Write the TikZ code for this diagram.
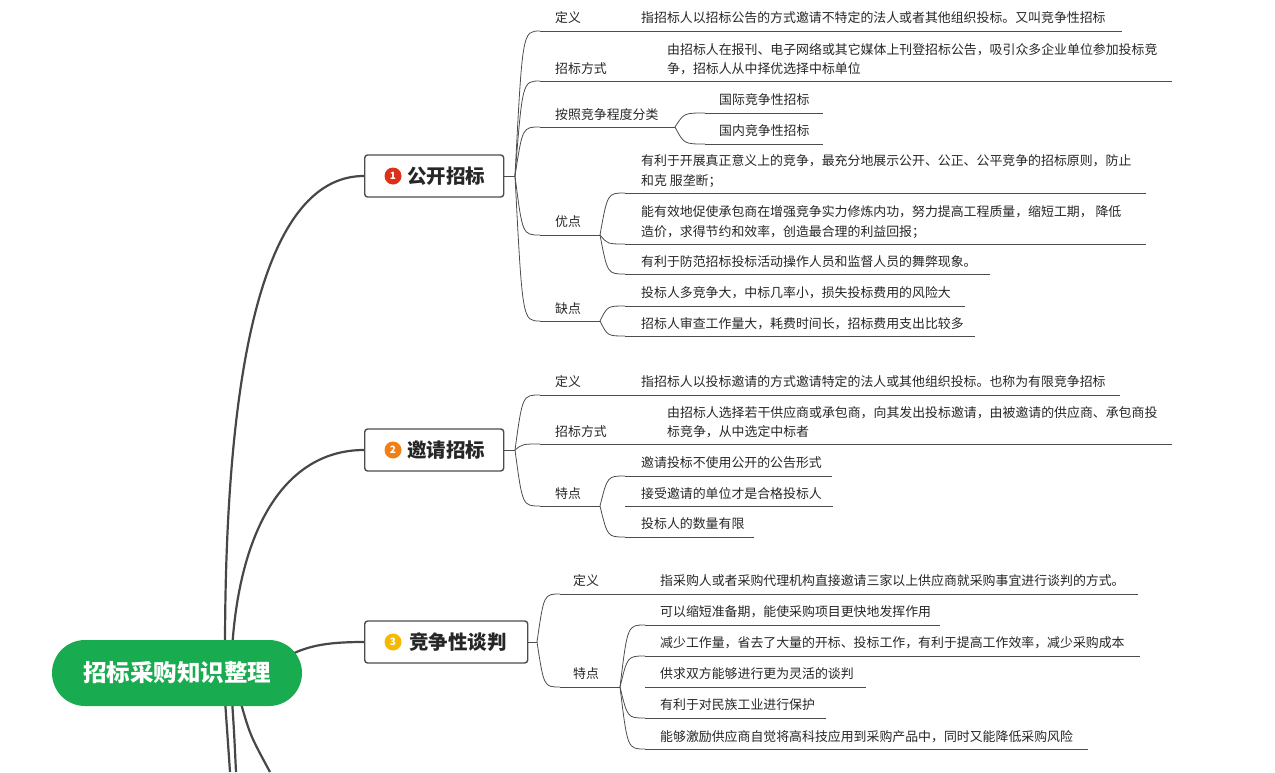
\documentclass[tikz,border=0pt]{standalone}
\usepackage{fontspec}
\setmainfont{Noto Sans CJK SC}
\begin{document}
\begin{tikzpicture}[x=1pt,y=-1pt,
  br/.style={draw=black!70,line width=0.8pt},
  ul/.style={draw=black!70,line width=0.8pt},
  mainln/.style={draw=black!72,line width=2.2pt},
  txt/.style={anchor=west,inner sep=0pt,font=\fontsize{12.9}{19.5}\selectfont,text=black!85,align=left},
  mainbox/.style={draw=black!70,line width=1.4pt,rounded corners=3pt,fill=white,minimum height=42pt,anchor=west,font=\fontsize{19.5}{22}\selectfont\bfseries,text=black!85},
  badge/.style={circle,inner sep=0pt,minimum size=17pt,text=white,font=\fontsize{10}{10}\selectfont\bfseries}]
\useasboundingbox (0,0) rectangle (1275,772);
\newcommand\br[4]{\draw[br] (#1,#2) .. controls ({#1+0.3*(#3-#1)},#4) .. (#3,#4);}
\newcommand\ul[3]{\draw[ul] (#1,#3) -- (#2,#3);}
\newcommand\tx[4]{\node[txt] (#1) at (#2,#3) {#4};}
% root lines
\draw[mainln] (225,650) .. controls (225,280) and (290,176) .. (364,176);
\draw[mainln] (232,650) .. controls (240,520) and (290,450) .. (364,450);
\draw[mainln] (290,655) .. controls (310,645) and (330,642) .. (364,642);
\draw[mainln] (225,700) -- (230,772);
\draw[mainln] (232,700) .. controls (234,730) .. (236,772);
\draw[mainln] (240,700) .. controls (250,735) .. (270,772);
\node[fill={rgb,255:red,24;green,171;blue,80},rounded corners=33pt,minimum width=250pt,minimum height=66pt,text=white,font=\fontsize{23.5}{26}\selectfont\bfseries] (root) at (177,673) {招标采购知识整理};
% main boxes
\node[mainbox,minimum width=139pt] (m1) at (364,176) {\hspace{24pt}公开招标};
\node[badge,fill={rgb,255:red,222;green,48;blue,24}] (b1) at (393,176) {1};
\node[mainbox,minimum width=139pt] (m2) at (364,450) {\hspace{24pt}邀请招标};
\node[badge,fill={rgb,255:red,240;green,128;blue,20}] (b2) at (393,450) {2};
\node[mainbox,minimum width=163pt] (m3) at (364,642) {\hspace{24pt}竞争性谈判};
\node[badge,fill={rgb,255:red,245;green,185;blue,0}] (b3) at (393,642) {3};
% group 1
\draw[br] (m1.east) -- (515,176);
\br{515}{176}{540}{31} \ul{540}{625}{31} \tx{d1}{555}{18}{定义}
\ul{625}{1122}{31} \tx{d1l}{641}{18}{指招标人以招标公告的方式邀请不特定的法人或者其他组织投标。又叫竞争性招标}
\br{515}{176}{540}{81} \ul{540}{652}{81} \tx{f1}{555}{69}{招标方式}
\ul{652}{1172}{81} \tx{f1l}{667}{59}{由招标人在报刊、电子网络或其它媒体上刊登招标公告，吸引众多企业单位参加投标竞\\争，招标人从中择优选择中标单位}
\br{515}{176}{540}{127} \ul{540}{675}{127} \tx{c1}{555}{115}{按照竞争程度分类}
\br{675}{127}{705}{113} \ul{705}{823}{113} \tx{c1a}{719}{100}{国际竞争性招标}
\br{675}{127}{705}{144} \ul{705}{823}{144} \tx{c1b}{719}{131}{国内竞争性招标}
\br{515}{176}{540}{235} \ul{540}{600}{235} \tx{y1}{555}{222}{优点}
\br{600}{235}{625}{193} \ul{625}{1146}{193} \tx{y1a}{641}{171}{有利于开展真正意义上的竞争，最充分地展示公开、公正、公平竞争的招标原则，防止\\和克 服垄断；}
\br{600}{235}{625}{244} \ul{625}{1146}{244} \tx{y1b}{641}{222}{能有效地促使承包商在增强竞争实力修炼内功，努力提高工程质量，缩短工期， 降低\\造价，求得节约和效率，创造最合理的利益回报；}
\br{600}{235}{625}{274} \ul{625}{990}{274} \tx{y1c}{641}{262}{有利于防范招标投标活动操作人员和监督人员的舞弊现象。}
\br{515}{176}{540}{321} \ul{540}{600}{321} \tx{q1}{555}{309}{缺点}
\br{600}{321}{625}{306} \ul{625}{965}{306} \tx{q1a}{641}{293}{投标人多竞争大，中标几率小，损失投标费用的风险大}
\br{600}{321}{625}{336} \ul{625}{975}{336} \tx{q1b}{641}{324}{招标人审查工作量大，耗费时间长，招标费用支出比较多}
% group 2
\draw[br] (m2.east) -- (515,450);
\br{515}{450}{540}{395} \ul{540}{625}{395} \tx{d2}{555}{382}{定义}
\ul{625}{1120}{395} \tx{d2l}{641}{382}{指招标人以投标邀请的方式邀请特定的法人或其他组织投标。也称为有限竞争招标}
\br{515}{450}{540}{444} \ul{540}{652}{444} \tx{f2}{555}{432}{招标方式}
\ul{652}{1172}{444} \tx{f2l}{667}{422}{由招标人选择若干供应商或承包商，向其发出投标邀请，由被邀请的供应商、承包商投\\标竞争，从中选定中标者}
\br{515}{450}{540}{506} \ul{540}{600}{506} \tx{t2}{555}{494}{特点}
\br{600}{506}{625}{476} \ul{625}{832}{476} \tx{t2a}{641}{463}{邀请投标不使用公开的公告形式}
\ul{625}{833}{506} \tx{t2b}{641}{494}{接受邀请的单位才是合格投标人}
\br{600}{506}{625}{537} \ul{625}{754}{537} \tx{t2c}{641}{524}{投标人的数量有限}
% group 3
\draw[br] (m3.east) -- (537,642);
\br{537}{642}{560}{594} \ul{560}{645}{594} \tx{d3}{573}{581}{定义}
\ul{645}{1138}{594} \tx{d3l}{660}{581}{指采购人或者采购代理机构直接邀请三家以上供应商就采购事宜进行谈判的方式。}
\br{537}{642}{560}{687} \ul{560}{620}{687} \tx{t3}{573}{674}{特点}
\br{620}{687}{645}{625} \ul{645}{940}{625} \tx{t3a}{660}{612}{可以缩短准备期，能使采购项目更快地发挥作用}
\br{620}{687}{645}{656} \ul{645}{1140}{656} \tx{t3b}{660}{643}{减少工作量，省去了大量的开标、投标工作，有利于提高工作效率，减少采购成本}
\ul{645}{866}{687} \tx{t3c}{660}{674}{供求双方能够进行更为灵活的谈判}
\br{620}{687}{645}{718} \ul{645}{826}{718} \tx{t3d}{660}{705}{有利于对民族工业进行保护}
\br{620}{687}{645}{749} \ul{645}{1088}{749} \tx{t3e}{660}{737}{能够激励供应商自觉将高科技应用到采购产品中，同时又能降低采购风险}
\end{tikzpicture}
\end{document}
